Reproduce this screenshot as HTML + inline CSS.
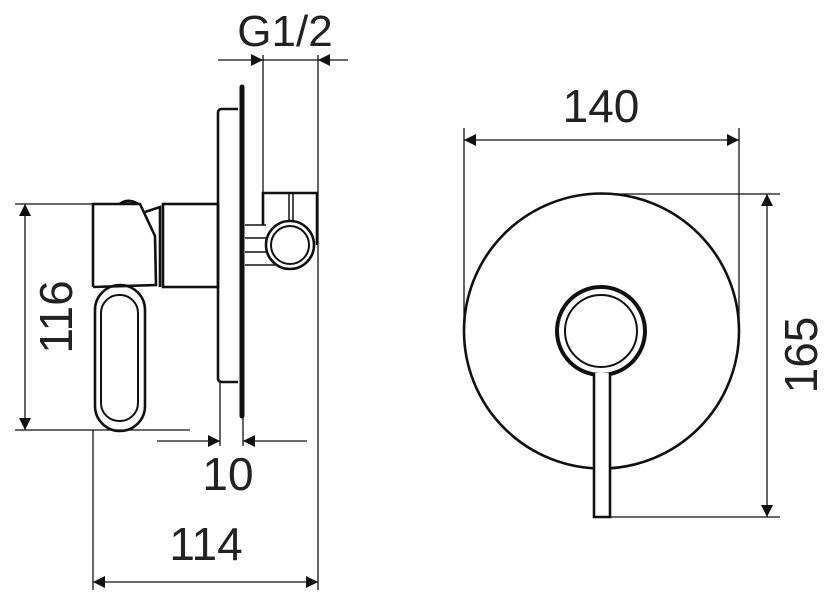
<!DOCTYPE html>
<html><head><style>
html,body{margin:0;padding:0;background:#fff;width:829px;height:600px;overflow:hidden}
text{font-family:"Liberation Sans",sans-serif;fill:#222}
</style></head><body>
<svg width="829" height="600" viewBox="0 0 829 600" xmlns="http://www.w3.org/2000/svg">
<defs>
<marker id="a" viewBox="0 0 10 10" refX="10" refY="5" markerWidth="26" markerHeight="12" markerUnits="userSpaceOnUse" orient="auto-start-reverse"><path d="M0,0 L10,5 L0,10 z" fill="#111"/></marker>
</defs>
<g stroke="#111" fill="none" stroke-width="1.3">
<line x1="218" y1="60" x2="263" y2="60" marker-end="url(#a)"/>
<line x1="263" y1="60" x2="318" y2="60"/>
<line x1="348" y1="60" x2="318" y2="60" marker-end="url(#a)"/>
<line x1="263" y1="55" x2="263" y2="193"/>
<line x1="318" y1="55" x2="318" y2="590"/>
<line x1="15" y1="204" x2="93" y2="204"/>
<line x1="15" y1="430" x2="190" y2="430"/>
<line x1="25" y1="317" x2="25" y2="204" marker-end="url(#a)"/>
<line x1="25" y1="317" x2="25" y2="430" marker-end="url(#a)"/>
<line x1="220" y1="382" x2="220" y2="446"/>
<line x1="243" y1="418" x2="243" y2="446"/>
<line x1="157" y1="441" x2="220" y2="441" marker-end="url(#a)"/>
<line x1="307" y1="441" x2="243" y2="441" marker-end="url(#a)"/>
<line x1="93" y1="430" x2="93" y2="590"/>
<line x1="206" y1="582" x2="93" y2="582" marker-end="url(#a)"/>
<line x1="206" y1="582" x2="318" y2="582" marker-end="url(#a)"/>
<line x1="464" y1="128" x2="464" y2="331"/>
<line x1="739" y1="128" x2="739" y2="331"/>
<line x1="601" y1="140" x2="464" y2="140" marker-end="url(#a)"/>
<line x1="601" y1="140" x2="739" y2="140" marker-end="url(#a)"/>
<line x1="600" y1="194" x2="780" y2="194"/>
<line x1="610" y1="517" x2="780" y2="517"/>
<line x1="767" y1="355" x2="767" y2="194" marker-end="url(#a)"/>
<line x1="767" y1="355" x2="767" y2="517" marker-end="url(#a)"/>
</g>
<g stroke="#111" fill="none" stroke-width="2.6">
<line x1="242" y1="87" x2="242" y2="416" stroke-width="5" stroke-linecap="round"/>
<path d="M238,109 L222,109 Q218,109 218,113 L218,378 Q218,382 222,382 L238,382"/>
<rect x="163" y="204" width="55" height="83"/>
<path d="M93,287 L93,204 L140,204 L155,236 L156,285 L93,287"/>
<path d="M120,204 Q128,198 138,204" stroke-width="3"/>
<path d="M145,212 L160,207 L160,287"/>
<rect x="95" y="285" width="50" height="146" rx="25"/>
<rect x="101" y="295" width="37" height="126" rx="18" stroke-width="2"/>
<path d="M263,225 L263,193 L317,193 L317,245"/>
<line x1="289" y1="193" x2="289" y2="222" stroke-width="1.5"/>
<line x1="293" y1="193" x2="293" y2="222" stroke-width="1.5"/>
<circle cx="290" cy="245" r="24"/>
<circle cx="290" cy="245" r="19" stroke-width="2"/>
<path d="M245,225 L266,225 M245,238 L266,238 M245,252 L266,252 M245,265 L275,265" stroke-width="1.6"/>
<circle cx="601.5" cy="331" r="137.5"/>
<circle cx="601" cy="331" r="44" stroke-width="4"/>
<circle cx="601" cy="331" r="36" stroke-width="2"/>
<path d="M594,373 L594,517 L610,517 L610,373" fill="#fff"/>
</g>
<text x="285" y="46" font-size="44" text-anchor="middle">G1/2</text>
<text x="601" y="122" font-size="46" text-anchor="middle">140</text>
<text x="228" y="490" font-size="46" text-anchor="middle">10</text>
<text x="206" y="560" font-size="46" text-anchor="middle">114</text>
<text transform="translate(72,317) rotate(-90)" font-size="46" text-anchor="middle">116</text>
<text transform="translate(817,355) rotate(-90)" font-size="46" text-anchor="middle">165</text>
</svg>
</body></html>
